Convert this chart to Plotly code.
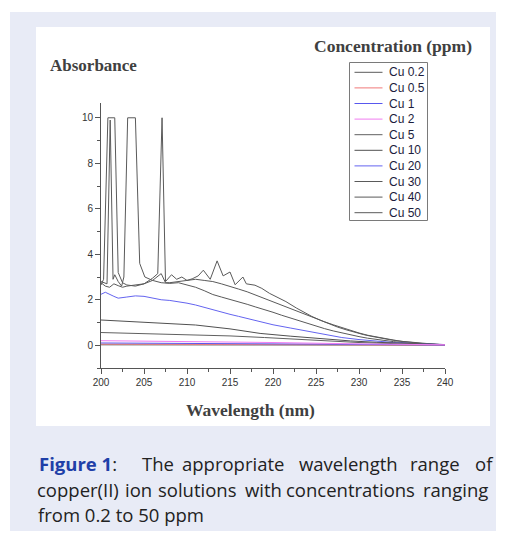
import plotly.graph_objects as go

# ---------------- data ----------------
x_cu02 = [200, 210, 220, 230, 240]
y_cu02 = [0.02, 0.02, 0.015, 0.01, 0.005]

x_cu05 = [200, 210, 220, 230, 240]
y_cu05 = [0.05, 0.045, 0.04, 0.025, 0.01]

x_cu1 = [200, 210, 220, 230, 240]
y_cu1 = [0.10, 0.09, 0.07, 0.04, 0.01]

x_cu2 = [200, 210, 220, 230, 240]
y_cu2 = [0.20, 0.17, 0.12, 0.06, 0.02]

x_cu5 = [200, 207, 215, 219, 225, 230, 235, 240]
y_cu5 = [0.56, 0.50, 0.41, 0.34, 0.22, 0.12, 0.06, 0.02]

x_cu10 = [200, 207, 211, 215, 218.5, 222, 226, 229, 232, 236, 240]
y_cu10 = [1.11, 0.99, 0.89, 0.72, 0.52, 0.40, 0.27, 0.19, 0.13, 0.07, 0.03]

x_cu20 = [200, 200.5, 201.5, 202, 203, 204, 205, 206, 207, 208, 209, 210, 211,
          212, 213, 214, 215, 216, 217, 218, 219, 220, 222, 224, 226, 228, 230,
          232, 234, 236, 238, 240]
y_cu20 = [2.24, 2.33, 2.15, 2.07, 2.12, 2.17, 2.15, 2.08, 2.00, 1.97, 1.92, 1.85,
          1.77, 1.66, 1.56, 1.46, 1.36, 1.27, 1.17, 1.07, 0.97, 0.90, 0.76, 0.62,
          0.46, 0.34, 0.25, 0.18, 0.12, 0.08, 0.05, 0.03]

x_cu30 = [200, 200.7, 201.07, 201.4, 201.6, 202, 202.4, 202.66, 203.1, 204,
          204.5, 205.1, 206, 207, 208, 209, 210, 211, 212, 213, 214, 215, 216,
          217, 218, 219, 220, 221, 222, 223, 224, 225, 226, 227, 228, 229, 230,
          231, 232, 233, 234, 235, 236, 237, 238, 239, 240]
y_cu30 = [2.80, 2.70, 9.90, 2.90, 3.10, 2.80, 2.60, 3.00, 10.0, 10.0,
          3.60, 3.00, 2.85, 2.75, 2.72, 2.75, 2.65, 2.55, 2.40, 2.23, 2.12, 2.02,
          1.90, 1.80, 1.68, 1.58, 1.45, 1.32, 1.20, 1.07, 0.95, 0.84, 0.73, 0.63,
          0.54, 0.46, 0.38, 0.31, 0.25, 0.20, 0.16, 0.12, 0.09, 0.07, 0.05, 0.03,
          0.02]

x_cu40 = [200, 200.3, 200.8, 201.6, 202, 202.5, 203, 204, 205, 206, 207, 207.5,
          208, 209, 210, 211, 212, 213, 214, 215, 216, 217, 218, 219, 220, 221,
          222, 223, 224, 225, 226, 227, 228, 229, 230, 231, 232, 233, 234, 235,
          236, 237, 238, 239, 240]
y_cu40 = [2.65, 2.90, 10.0, 10.0, 3.20, 2.75, 2.65, 2.60, 2.70, 2.85, 3.15, 2.75,
          2.75, 2.80, 2.85, 2.90, 2.85, 2.80, 2.70, 2.60, 2.47, 2.35, 2.20, 2.07,
          1.93, 1.78, 1.63, 1.48, 1.33, 1.18, 1.03, 0.90, 0.77, 0.65, 0.54, 0.44,
          0.36, 0.29, 0.23, 0.17, 0.13, 0.09, 0.06, 0.04, 0.02]

x_cu50 = [200, 200.5, 201, 201.5, 202, 202.5, 203, 204, 205, 206, 206.6, 207.1,
          207.5, 208.2, 208.8, 209.4, 210, 210.6, 211.3, 211.9, 212.7, 213.5,
          214.2, 215, 215.6, 216.5, 216.9, 217.9, 218.7, 219.6, 220.5, 221.5,
          222.75, 223.7, 224.5, 225.5, 226.5, 227.5, 228.5, 229.5, 230.5, 231.5,
          232.5, 233.5, 234.5, 235.5, 236.5, 237.5, 238.5, 240]
y_cu50 = [2.75, 2.60, 2.55, 2.70, 2.62, 2.55, 2.60, 2.65, 2.70, 2.95, 3.15, 10.0,
          2.80, 3.10, 2.90, 3.00, 2.85, 2.92, 3.05, 3.30, 2.90, 3.71,
          3.05, 3.22, 2.66, 3.00, 2.70, 2.64, 2.50, 2.28, 2.12, 1.92,
          1.63, 1.42, 1.27, 1.10, 0.94, 0.80, 0.68, 0.57, 0.47, 0.39,
          0.31, 0.25, 0.19, 0.14, 0.10, 0.07, 0.05, 0.02]

names = ["Cu 0.2", "Cu 0.5", "Cu 1", "Cu 2", "Cu 5", "Cu 10", "Cu 20",
         "Cu 30", "Cu 40", "Cu 50"]
xs = [x_cu02, x_cu05, x_cu1, x_cu2, x_cu5, x_cu10, x_cu20, x_cu30, x_cu40, x_cu50]
ys = [y_cu02, y_cu05, y_cu1, y_cu2, y_cu5, y_cu10, y_cu20, y_cu30, y_cu40, y_cu50]
colors = ["#5a5a5a", "#f07878", "#5858ee", "#f07cf0", "#606060", "#505050",
          "#6464f0", "#5a5a5a", "#5a5a5a", "#5a5a5a"]

x_ticks = [200, 205, 210, 215, 220, 225, 230, 235, 240]
y_ticks = [0, 2, 4, 6, 8, 10]

# ---------------- layout geometry ----------------
W_FIG, H_FIG = 506, 539
L, R, T, B = 101, 61, 103, 171
PW = W_FIG - L - R
PH = H_FIG - T - B


def fx(px):
    return (px - L) / PW


def fy(py):
    return (H_FIG - B - py) / PH


fig = go.Figure()
order = [9, 8, 7, 6, 5, 4, 0, 1, 2, 3]
for i in order:
    fig.add_trace(go.Scatter(x=xs[i], y=ys[i], mode="lines", name=names[i],
                             line=dict(color=colors[i], width=1),
                             showlegend=False, hoverinfo="skip"))

shapes = []
ann = []
shapes.append(dict(type="rect", xref="paper", yref="paper", layer="below",
                   x0=fx(10), x1=fx(496), y0=fy(531), y1=fy(12),
                   fillcolor="#e8ebf6", line=dict(width=0)))
shapes.append(dict(type="rect", xref="paper", yref="paper", layer="below",
                   x0=fx(36), x1=fx(490), y0=fy(426), y1=fy(27),
                   fillcolor="white", line=dict(width=0)))

# manual legend
shapes.append(dict(type="rect", xref="paper", yref="paper",
                   x0=fx(349.5), x1=fx(427.5), y0=fy(220.5), y1=fy(62.5),
                   fillcolor="rgba(0,0,0,0)", line=dict(color="#7a7a7a", width=1)))
for k, nm in enumerate(names):
    py = 72.3 + k * 15.6
    shapes.append(dict(type="line", xref="paper", yref="paper",
                       x0=fx(354.5), x1=fx(382.5), y0=fy(py), y1=fy(py),
                       line=dict(color=colors[k], width=1)))
    ann.append(dict(text=nm, xref="paper", yref="paper", x=fx(387), y=fy(py),
                    xanchor="left", yanchor="middle", showarrow=False,
                    font=dict(family="Liberation Sans", size=12, color="#1c1c3c")))

ann.append(dict(text="<b>Concentration (ppm)</b>", xref="paper", yref="paper",
                x=fx(392.5), y=fy(46), xanchor="center", yanchor="middle",
                showarrow=False,
                font=dict(family="Liberation Serif", size=17.5, color="#404040")))
ann.append(dict(text="<b>Absorbance</b>", xref="paper", yref="paper",
                x=fx(93.5), y=fy(65), xanchor="center", yanchor="middle",
                showarrow=False,
                font=dict(family="Liberation Serif", size=17, color="#404040")))
ann.append(dict(text="<b>Wavelength (nm)</b>", xref="paper", yref="paper",
                x=fx(250), y=fy(410), xanchor="center", yanchor="middle",
                showarrow=False,
                font=dict(family="Liberation Serif", size=17.5, color="#404040")))

# caption (justified by placing words)
cap_font = dict(family="Open Sans", size=18.5, color="#222222")
ann.append(dict(text="<span style='color:#1f3fa8'><b>Figure 1</b></span>:",
                xref="paper", yref="paper", x=fx(36.5), y=fy(463.5),
                xanchor="left", yanchor="middle", showarrow=False, font=cap_font))
line1 = [("The", 157.5), ("appropriate", 233.3), ("wavelength", 348.3),
         ("range", 435), ("of", 484.5)]
line2 = [("copper(II)", 78.3), ("ion", 138.3), ("solutions", 197.3), ("with", 263),
         ("concentrations", 350), ("ranging", 455)]
for w, xp in line1:
    ann.append(dict(text=w, xref="paper", yref="paper", x=fx(xp), y=fy(463.5),
                    xanchor="center", yanchor="middle", showarrow=False,
                    font=cap_font))
for w, xp in line2:
    ann.append(dict(text=w, xref="paper", yref="paper", x=fx(xp), y=fy(489),
                    xanchor="center", yanchor="middle", showarrow=False,
                    font=cap_font))
ann.append(dict(text="from 0.2 to 50 ppm", xref="paper", yref="paper", x=fx(36),
                y=fy(514.5), xanchor="left", yanchor="middle", showarrow=False,
                font=cap_font))

tick_font = dict(family="Liberation Sans", size=10, color="#333333")
fig.update_layout(
    width=W_FIG, height=H_FIG,
    margin=dict(l=L, r=R, t=T, b=B, pad=0),
    paper_bgcolor="white", plot_bgcolor="rgba(0,0,0,0)",
    shapes=shapes, annotations=ann, showlegend=False,
    xaxis=dict(range=[200, 240], tickvals=x_ticks, ticktext=[str(v) for v in x_ticks],
               ticks="outside", ticklen=5, tickcolor="#555", tickwidth=1,
               showline=True, linecolor="#555", linewidth=1, showgrid=False,
               zeroline=False, tickfont=tick_font,
               minor=dict(dtick=2.5, tick0=200, ticks="outside", ticklen=3,
                          tickcolor="#555", showgrid=False)),
    yaxis=dict(range=[-1, 10.65], tickvals=y_ticks, ticktext=[str(v) for v in y_ticks],
               ticks="outside", ticklen=5, tickcolor="#555", tickwidth=1,
               showline=True, linecolor="#555", linewidth=1, showgrid=False,
               zeroline=False, tickfont=tick_font,
               minor=dict(dtick=1, tick0=0, ticks="outside", ticklen=3,
                          tickcolor="#555", showgrid=False)),
)

fig.write_html("out.html", config={"displayModeBar": False},
               post_script="document.body.style.margin='0px';")
